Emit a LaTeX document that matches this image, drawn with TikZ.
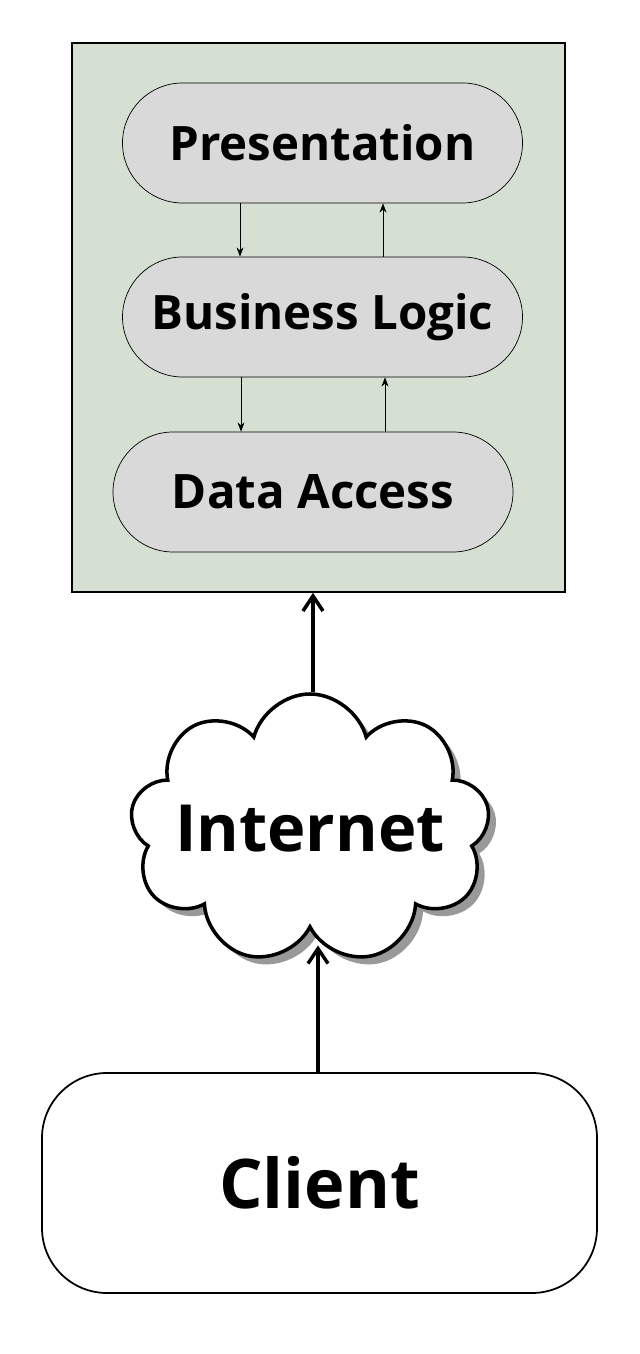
\documentclass[tikz,border=0pt]{standalone}
\usepackage{fontspec}
\setmainfont{Open Sans}
\usetikzlibrary{shapes.symbols, shadows, arrows.meta, positioning}
\definecolor{tiergreen}{HTML}{D5E0D3}
\definecolor{layergray}{HTML}{D9D9D9}
\begin{document}
\begin{tikzpicture}[
    layer/.style={rectangle, rounded corners=1.2cm, minimum width=8cm, minimum height=2.4cm, text centered, draw=black, fill=layergray, font=\bfseries\fontsize{27}{32}\selectfont},
    thin arrow/.style={->, >=Stealth, line width=0.5pt},
    thick arrow/.style={-{Straight Barb[length=3mm,width=4mm]}, line width=2pt}
]
\useasboundingbox (0,0) rectangle (12.8,27.08);

% Application tier
\node (tier) [rectangle, draw=black, line width=1pt, fill=tiergreen, minimum width=9.86cm, minimum height=10.98cm] at (6.37,20.73) {};
\node (pres) [layer] at (6.45,24.22) {Presentation};
\node (logic) [layer] at (6.45,20.74) {Business Logic};
\node (data) [layer] at (6.26,17.24) {Data Access};

% Internet
\node (net) [cloud, cloud puffs=9, aspect=1.4, draw=black, line width=2pt, fill=white, inner sep=0pt, minimum width=7.2cm, minimum height=5.4cm, drop shadow={shadow xshift=1.5mm, shadow yshift=-1.5mm, fill=gray!80, opacity=1}] at (6.2,10.5) {};
\node (nettext) [font=\bfseries\fontsize{37}{44}\selectfont] at (net) {Internet};

% Client
\node (client) [rectangle, rounded corners=1.3cm, draw=black, line width=1pt, fill=white, minimum width=11.1cm, minimum height=4.4cm, font=\bfseries\fontsize{39}{46}\selectfont] at (6.39,3.42) {Client};

% Arrows
\draw [thin arrow] ([xshift=-1.65cm]pres.south) -- ([xshift=-1.65cm]pres.south |- logic.north);
\draw [thin arrow] ([xshift=1.21cm]logic.north) -- ([xshift=1.21cm]pres.south);
\draw [thin arrow] ([xshift=-1.63cm]logic.south) -- ([xshift=-1.63cm]logic.south |- data.north);
\draw [thin arrow] ([xshift=1.25cm]logic.south |- data.north) -- ([xshift=1.25cm]logic.south);
\draw [thick arrow] ([xshift=0.06cm]net.north) -- ([xshift=0.06cm]net.north |- tier.south);
\draw [thick arrow] ([xshift=0.16cm]client.north -| net.south) -- ([xshift=0.16cm,yshift=-0.3cm]net.south);

\end{tikzpicture}
\end{document}
